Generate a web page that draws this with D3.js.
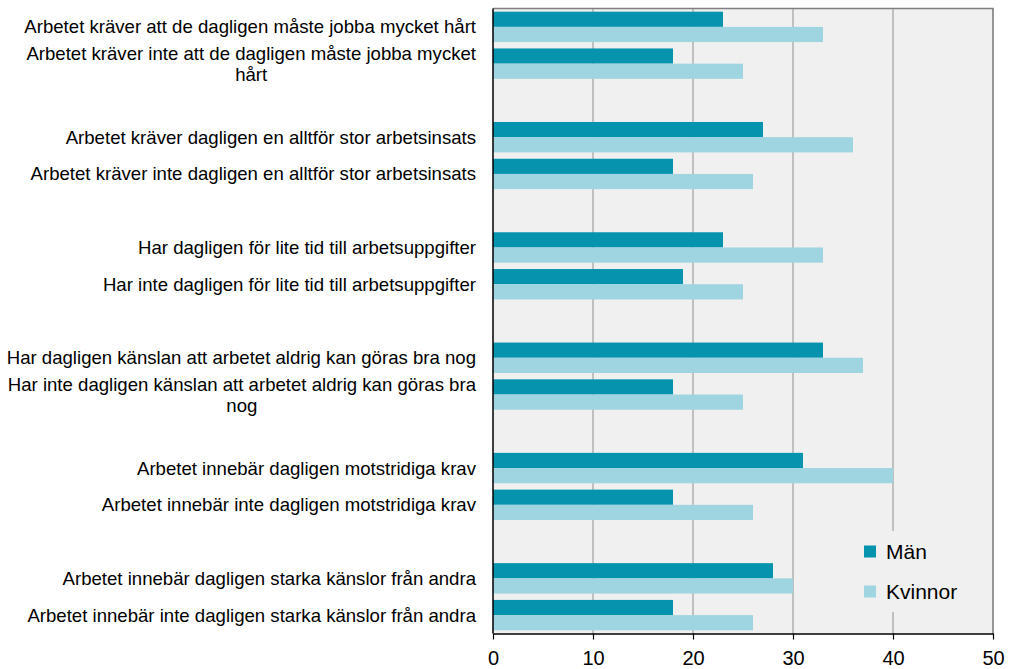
<!DOCTYPE html>
<html><head><meta charset="utf-8">
<script src="https://cdn.jsdelivr.net/npm/d3@7"></script>
<style>body{margin:0;background:#fff}svg{display:block;font-family:"Liberation Sans",Arial,sans-serif}</style>
</head><body><svg id="c" width="1015" height="669"></svg>
<script>
const categories = [
  "Arbetet kräver att de dagligen måste jobba mycket hårt",
  "Arbetet kräver inte att de dagligen måste jobba mycket hårt",
  "",
  "Arbetet kräver dagligen en alltför stor arbetsinsats",
  "Arbetet kräver inte dagligen en alltför stor arbetsinsats",
  "",
  "Har dagligen för lite tid till arbetsuppgifter",
  "Har inte dagligen för lite tid till arbetsuppgifter",
  "",
  "Har dagligen känslan att arbetet aldrig kan göras bra nog",
  "Har inte dagligen känslan att arbetet aldrig kan göras bra nog",
  "",
  "Arbetet innebär dagligen motstridiga krav",
  "Arbetet innebär inte dagligen motstridiga krav",
  "",
  "Arbetet innebär dagligen starka känslor från andra",
  "Arbetet innebär inte dagligen starka känslor från andra"
];
const man     = [23, 18, null, 27, 18, null, 23, 19, null, 33, 18, null, 31, 18, null, 28, 18];
const kvinnor = [33, 25, null, 36, 26, null, 33, 25, null, 37, 25, null, 40, 26, null, 30, 26];
const seriesNames = ["Män", "Kvinnor"];
const seriesColors = ["#0593ae", "#9ed5e0"];
const xTicks = [0, 10, 20, 30, 40, 50];

const svg = d3.select("#c");
const L = 493, R = 993, T = 8.5, B = 633.5;
const x = d3.scaleLinear().domain([0, 50]).range([L, R]);
const keys = categories.map((d, i) => i);
const y = d3.scaleBand().domain(keys).range([T, B]).paddingInner(0).paddingOuter(0);
const barH = 15.2;

// background
svg.append("rect").attr("x", L).attr("y", T).attr("width", R - L).attr("height", B - T).attr("fill", "#f0f0f0");
// gridlines
svg.append("g").selectAll("line").data(xTicks.slice(1, -1)).join("line")
  .attr("x1", d => x(d)).attr("x2", d => x(d)).attr("y1", T).attr("y2", B)
  .attr("stroke", "#a6a6a6").attr("stroke-width", 1.3);
// border top/right
svg.append("path").attr("d", `M${L},${T}H${R}V${B}`).attr("fill", "none").attr("stroke", "#7f7f7f").attr("stroke-width", 1.6);

const series = [man, kvinnor];
series.forEach((vals, si) => {
  svg.append("g").selectAll("rect").data(vals.map((v, i) => ({v, i})).filter(d => d.v != null)).join("rect")
    .attr("x", x(0))
    .attr("y", d => y(d.i) + y.bandwidth() / 2 - barH + si * barH)
    .attr("width", d => x(d.v) - x(0))
    .attr("height", barH)
    .attr("fill", seriesColors[si]);
});

// x axis
const xAxis = d3.axisBottom(x).tickValues(xTicks).tickSize(6).tickSizeOuter(0).tickPadding(11);
const gx = svg.append("g").attr("transform", `translate(0,${B})`).call(xAxis);
gx.select(".domain").attr("stroke", "#000").attr("stroke-width", 1.5);
gx.selectAll(".tick line").attr("stroke", "#000").attr("stroke-width", 1.2);
gx.selectAll(".tick text").attr("font-size", 20).attr("fill", "#000").attr("font-family", "Liberation Sans, Arial, sans-serif");
// y axis line
svg.append("line").attr("x1", L).attr("x2", L).attr("y1", T).attr("y2", B).attr("stroke", "#000").attr("stroke-width", 1.5);

// category labels with wrapping
const maxW = 472, rightX = 476, fs = 18.6, lh = 21;
const meas = svg.append("text").attr("font-size", fs).attr("visibility", "hidden");
function width(s) { meas.text(s); return meas.node().getComputedTextLength(); }
const lab = svg.append("g");
categories.forEach((c, i) => {
  if (!c) return;
  const words = c.split(" ");
  const lines = [];
  let cur = "";
  words.forEach(w => {
    const t = cur ? cur + " " + w : w;
    if (width(t) > maxW && cur) { lines.push(cur); cur = w; } else cur = t;
  });
  lines.push(cur);
  const bw = d3.max(lines, width);
  const cx = rightX - bw / 2;
  const cy = y(i) + y.bandwidth() / 2;
  const t = lab.append("text").attr("font-size", fs).attr("fill", "#000").attr("text-anchor", "middle");
  lines.forEach((ln, k) => {
    t.append("tspan").attr("x", cx).attr("y", cy + (k - (lines.length - 1) / 2) * lh).attr("dy", "0.35em").text(ln);
  });
});
meas.remove();

// legend
const lg = svg.append("g");
lg.append("rect").attr("x", 855).attr("y", 531).attr("width", 122).attr("height", 81).attr("fill", "#f0f0f0");
seriesNames.forEach((n, i) => {
  const yy = 551.5 + i * 40;
  lg.append("rect").attr("x", 864).attr("y", yy - 6).attr("width", 12).attr("height", 12).attr("fill", seriesColors[i]);
  lg.append("text").attr("x", 886).attr("y", yy).attr("dy", "0.35em").attr("font-size", 21).attr("fill", "#000").text(n);
});
</script></body></html>
